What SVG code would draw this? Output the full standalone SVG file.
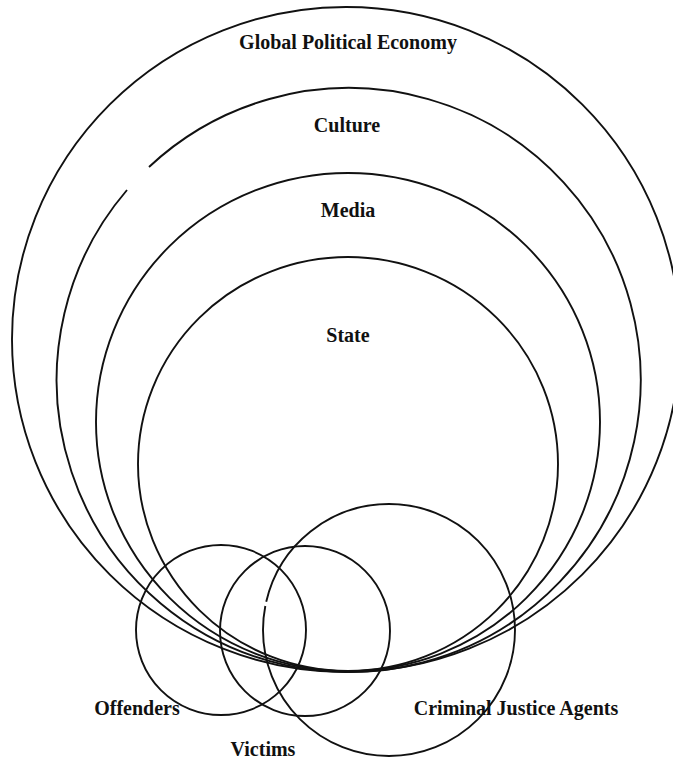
<svg xmlns="http://www.w3.org/2000/svg" width="673" height="760" viewBox="0 0 673 760">
<style>
.c{fill:none;stroke:#111;stroke-width:1.9}
.t{font-family:"Liberation Serif","Times New Roman",serif;font-weight:bold;font-size:20px;fill:#111;text-anchor:middle}
</style>
<rect width="673" height="760" fill="#fff"/>
<g id="global"><ellipse class="c" cx="346" cy="339.5" rx="334" ry="332.5"/><text class="t" x="348" y="49">Global Political Economy</text></g>
<g id="culture"><path class="c" d="M149,167 A292,292 0 1 1 127,190"/><text class="t" x="347" y="132">Culture</text></g>
<g id="media"><ellipse class="c" cx="348" cy="422" rx="252" ry="249"/><text class="t" x="348" y="217">Media</text></g>
<g id="state"><ellipse class="c" cx="348" cy="464" rx="210" ry="207"/><text class="t" x="348" y="342">State</text></g>
<g id="offenders"><circle class="c" cx="221" cy="630" r="85"/><text class="t" x="137" y="715">Offenders</text></g>
<g id="victims"><circle class="c" cx="305" cy="631" r="85"/><text class="t" x="263" y="756">Victims</text></g>
<g id="cja"><circle class="c" cx="389" cy="630" r="126" pathLength="360" stroke-dasharray="191 2 167"/><text class="t" x="516" y="715">Criminal Justice Agents</text></g>
<g id="connectors"></g>
</svg>
